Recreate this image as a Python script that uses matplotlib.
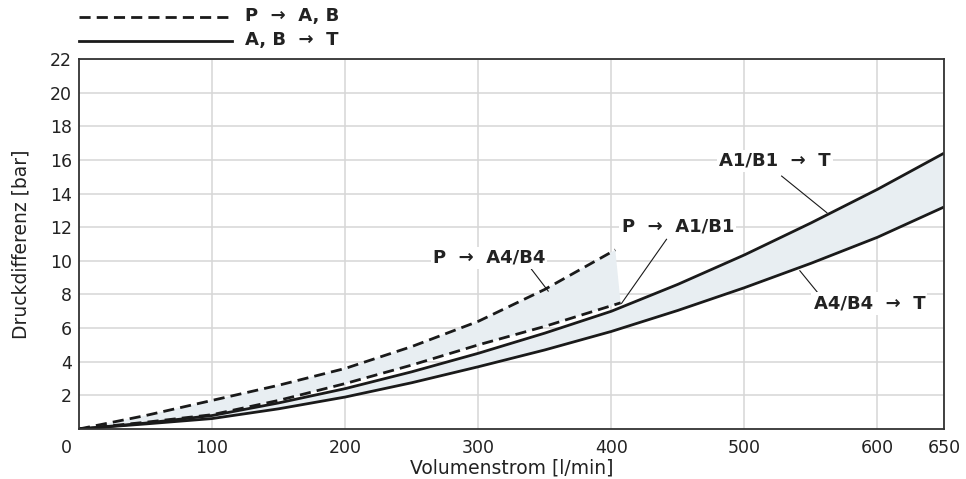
import matplotlib
matplotlib.use("Agg")
import matplotlib.pyplot as plt
from matplotlib.lines import Line2D
import numpy as np

plt.rcParams['font.family'] = ['DejaVu Sans']

# ---- data ----
x_t = [0, 50, 100, 150, 200, 250, 300, 350, 400, 450, 500, 550, 600, 650]
a1b1_t = [0, 0.35, 0.8, 1.55, 2.4, 3.4, 4.5, 5.7, 7.0, 8.6, 10.35, 12.25, 14.25, 16.4]
a4b4_t = [0, 0.3, 0.62, 1.2, 1.9, 2.75, 3.7, 4.7, 5.8, 7.05, 8.4, 9.85, 11.4, 13.2]

x_pa4 = [0, 50, 100, 150, 200, 250, 300, 350, 403]
p_a4b4 = [0, 0.8, 1.7, 2.6, 3.6, 4.9, 6.4, 8.3, 10.65]
x_pa1 = [0, 50, 100, 150, 200, 250, 300, 350, 407]
p_a1b1 = [0, 0.4, 0.85, 1.7, 2.7, 3.8, 5.0, 6.1, 7.5]

x_ticks = [100, 200, 300, 400, 500, 600, 650]
y_ticks = [2, 4, 6, 8, 10, 12, 14, 16, 18, 20, 22]

legend_labels = ["P  \u2192  A, B", "A, B  \u2192  T"]
annotations = [
    ("P  \u2192  A4/B4", (308, 10.17), (340, 9.5), (352.6, 8.2)),
    ("P  \u2192  A1/B1", (450, 12.07), (441.5, 11.28), (407.7, 7.47)),
    ("A1/B1  \u2192  T", (523, 15.95), (528, 15.04), (562, 12.86)),
    ("A4/B4  \u2192  T", (594, 7.47), (555.5, 8.07), (541.7, 9.41)),
]

fill_col = "#e8eef2"
line_col = "#1a1a1a"
text_col = "#222222"
FS = 12.5
FS_LAB = 13.5
FS_ANN = 13

fig = plt.figure(figsize=(9.66, 4.79), dpi=100)
ax = fig.add_axes([0.0818, 0.1044, 0.8954, 0.7724])

# fills
ax.fill(np.concatenate([x_pa4, x_pa1[::-1]]),
        np.concatenate([p_a4b4, p_a1b1[::-1]]),
        color=fill_col, lw=0, zorder=1)
ax.fill_between(x_t, a4b4_t, a1b1_t, color=fill_col, lw=0, zorder=1)

# lines
ax.plot(x_t, a1b1_t, color=line_col, lw=2.0, zorder=3, solid_capstyle='butt')
ax.plot(x_t, a4b4_t, color=line_col, lw=2.0, zorder=3, solid_capstyle='butt')
ax.plot(x_pa4, p_a4b4, color=line_col, lw=2.0, dashes=(4, 2.2), zorder=3)
ax.plot(x_pa1, p_a1b1, color=line_col, lw=2.0, dashes=(4, 2.2), zorder=3)

ax.set_xlim(0, 650)
ax.set_ylim(0, 22)
ax.set_xticks(x_ticks)
ax.set_xticklabels([str(v) for v in x_ticks])
ax.set_yticks(y_ticks)
ax.set_yticklabels([str(v) for v in y_ticks])
ax.tick_params(axis='both', length=0, labelsize=FS, colors=text_col)
ax.tick_params(axis='x', pad=7)
ax.tick_params(axis='y', pad=5)
ax.grid(True, color="#d6d6d6", lw=1.1, zorder=0)
ax.set_axisbelow(True)
for s in ax.spines.values():
    s.set_color("#333333")
    s.set_linewidth(1.3)
    s.set_zorder(4)

ax.annotate("0", xy=(0, 0), xycoords='axes fraction', xytext=(-9, -7),
            textcoords='offset points', ha='center', va='top',
            fontsize=FS, color=text_col)

ax.set_xlabel("Volumenstrom [l/min]", fontsize=FS_LAB, color=text_col, labelpad=1)
ax.set_ylabel("Druckdifferenz [bar]", fontsize=FS_LAB, color=text_col, labelpad=14)

# annotations
for label, txy, p0, p1 in annotations:
    ax.plot([p0[0], p1[0]], [p0[1], p1[1]], color=line_col, lw=0.8, zorder=3)
    ax.text(txy[0], txy[1], label, ha='center', va='center', fontsize=FS_ANN,
            fontweight='bold', color=text_col, zorder=5,
            bbox=dict(facecolor='white', edgecolor='none', pad=1.5))

# custom legend at top
W, H = 966, 479
fig.add_artist(Line2D([79 / W, 232 / W], [1 - 16.5 / H, 1 - 16.5 / H],
                      color=line_col, lw=2.0, dashes=(4, 2.2)))
fig.add_artist(Line2D([79 / W, 232 / W], [1 - 40.5 / H, 1 - 40.5 / H],
                      color=line_col, lw=2.0))
fig.text(245 / W, 1 - 16.5 / H, legend_labels[0], ha='left', va='center',
         fontsize=FS_ANN, fontweight='bold', color=text_col)
fig.text(245 / W, 1 - 40.5 / H, legend_labels[1], ha='left', va='center',
         fontsize=FS_ANN, fontweight='bold', color=text_col)

fig.savefig("out.png", dpi=100)
